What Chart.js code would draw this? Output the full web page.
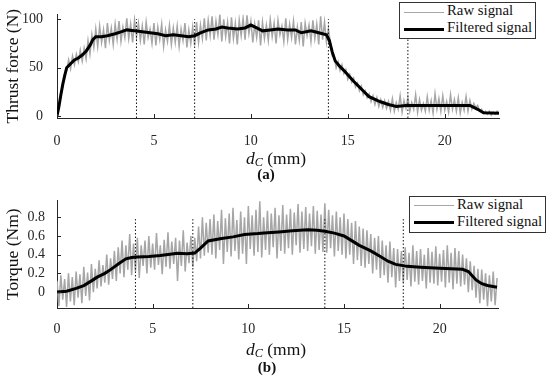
<!DOCTYPE html>
<html>
<head>
<meta charset="utf-8">
<script src="https://cdn.jsdelivr.net/npm/chart.js@4.4.1/dist/chart.umd.min.js"></script>
<style>
  body { margin: 0; background: #fff; }
  #wrap { position: relative; width: 550px; height: 377px; font-family: "Liberation Serif", serif; color: #111; }
  canvas { position: absolute; left: 0; }
  .xlab { position: absolute; font-size: 17.5px; line-height: 17.5px; white-space: nowrap; transform: translateX(-50%); }
  .xlab sub { font-size: 0.7em; position: relative; top: 0.2em; vertical-align: baseline; font-style: italic; }
  .cap { position: absolute; font-size: 15px; line-height: 15px; font-weight: bold; white-space: nowrap; transform: translateX(-50%); }
  .legend { position: absolute; width: 137px; height: 37px; box-sizing: border-box; border: 1px solid #333; background: #fff; font-size: 14.8px; line-height: 14.8px; }
  .legend .sw { position: absolute; left: 4px; width: 40px; }
  .legend .tx { position: absolute; left: 47px; white-space: nowrap; }
</style>
</head>
<body>
<div id="wrap">
  <canvas id="thrust" width="550" height="190" style="top:0"></canvas>
  <canvas id="torque" width="550" height="189" style="top:188px"></canvas>

  <div class="xlab" style="left:276px; top:150px"><i>d</i><sub>C</sub> (mm)</div>
  <div class="cap" style="left:266px; top:167px">(a)</div>
  <div class="xlab" style="left:276px; top:341px"><i>d</i><sub>C</sub> (mm)</div>
  <div class="cap" style="left:267px; top:360px">(b)</div>

  <div class="legend" style="left:399px; top:2px">
    <div class="sw" style="top:9px; height:1px; background:#a6a6a6"></div>
    <div class="tx" style="top:0px">Raw signal</div>
    <div class="sw" style="top:24.5px; height:3px; background:#000"></div>
    <div class="tx" style="top:17px">Filtered signal</div>
  </div>
  <div class="legend" style="left:409px; top:196px">
    <div class="sw" style="top:8px; height:1px; background:#a6a6a6"></div>
    <div class="tx" style="top:0px">Raw signal</div>
    <div class="sw" style="top:24px; height:3px; background:#000"></div>
    <div class="tx" style="top:17px">Filtered signal</div>
  </div>
</div>

<script>
// sample spacing of the raw signals (mm)
const rawStep = 0.1;

// (a) thrust force, raw samples from d = 0 to 22.8 mm
const thrustRaw = [
  0, 9, 24, 31, 44, 47,
  58, 49, 62, 53, 64,
  56, 68, 57, 70, 59,
  78, 64, 84, 71, 90,
  72, 93, 76, 89, 70, 96, 78, 91, 74, 95,
  79, 98, 77, 92, 81, 101, 80, 95, 76, 99,
  82, 96, 78, 93, 74, 97, 81, 90, 75, 96,
  73, 92, 79, 95, 72, 89, 77, 94, 74, 91,
  76, 93, 72, 90, 78, 96, 71, 89, 75, 92,
  73, 97, 76, 94, 80, 101, 78, 99, 83, 103,
  79, 98, 84, 105, 77, 100, 82, 97, 75, 102,
  80, 96, 74, 99, 83, 101, 79, 104, 85, 98,
  76, 95, 81, 99, 73, 97, 80, 94, 78, 100,
  82, 96, 75, 99, 84, 93, 77, 101, 79, 95,
  81, 98, 74, 92, 78, 97, 72, 96, 83, 94,
  77, 99, 80, 95, 74, 103, 79, 97, 76, 90,
  76, 62, 61, 50, 56, 47, 53, 44, 48, 38,
  43, 35, 39, 30, 34, 26, 31, 22, 26, 19,
  23, 15, 21, 12, 19, 10, 17, 9, 16, 8,
  15, 6, 18, 5, 14, 7, 21, 4, 16, 8,
  19, 5, 14, 7, 22, 4, 17, 6, 13, 5,
  20, 6, 16, 3, 23, 7, 18, 5, 21, 6,
  15, 4, 22, 7, 17, 5, 19, 3, 14, 6,
  20, 5, 16, 7, 13, 9, 11, 5, 7, 3,
  5, 2, 5, 1, 4, 2, 5, 3
];

// (a) filtered thrust force
const thrustFiltX = [0, 0.1, 0.2, 0.3, 0.4, 0.5, 0.7, 0.9, 1.1, 1.3, 1.5, 1.7, 1.85, 2.0, 2.3, 2.6, 3.0, 3.3, 3.6, 4.0,
  4.4, 4.8, 5.2, 5.6, 6.0, 6.4, 6.8, 7.1, 7.4, 7.8, 8.2, 8.5, 8.8, 9.3, 9.7, 10.0, 10.3, 10.6, 11.0, 11.4, 11.9,
  12.3, 12.6, 13.1, 13.5, 13.9, 14.05, 14.2, 14.35, 14.6, 14.85, 15.3, 15.7, 16.1, 16.65, 17.1, 17.5, 18.0, 19.0, 20.0, 21.3,
  21.7, 22.0, 22.8];
const thrustFilt = [0, 10, 22, 33, 42, 50, 54, 58, 60, 63, 67, 73, 79, 82, 82, 83, 85, 87, 89, 88,
  87, 86, 85, 83, 84, 83, 82, 83, 86, 89, 90, 92, 91, 90, 91, 94, 91, 88, 89, 90, 89,
  89, 86, 88, 86, 84, 78, 66, 57, 51, 46, 36, 28, 20, 15, 12, 10, 11, 11, 11, 11,
  7, 3.5, 3];

// (b) torque, raw samples from d = 0 to 23.0 mm
const torqueRaw = [
  0.12, -0.15, 0.18, -0.08, 0.14, -0.16, 0.2, -0.1, 0.16, -0.14, 0.22,
  -0.06, 0.19, -0.12, 0.27, -0.04, 0.21, -0.09, 0.3, 0.0, 0.25,
  0.04, 0.34, 0.06, 0.29, 0.1, 0.4, 0.08, 0.36, 0.14, 0.44,
  0.12, 0.48, 0.2, 0.55, 0.16, 0.5, 0.24, 0.62, 0.18, 0.52,
  0.22, 0.58, 0.15, 0.5, 0.28, 0.55, 0.2, 0.6, 0.26, 0.52,
  0.24, 0.63, 0.29, 0.5, 0.19, 0.56, 0.27, 0.64, 0.25, 0.54,
  0.3, 0.58, 0.12, 0.55, 0.28, 0.66, 0.22, 0.53, 0.31, 0.6,
  0.27, 0.58, 0.33, 0.7, 0.36, 0.8, 0.39, 0.74, 0.42, 0.78,
  0.4, 0.83, 0.36, 0.76, 0.45, 0.88, 0.3, 0.79, 0.43, 0.84,
  0.38, 0.9, 0.44, 0.77, 0.35, 0.86, 0.41, 0.8, 0.3, 0.92,
  0.46, 0.82, 0.39, 0.88, 0.43, 0.97, 0.37, 0.8, 0.45, 0.87,
  0.4, 0.84, 0.48, 0.9, 0.36, 0.82, 0.44, 0.93, 0.41, 0.83,
  0.47, 0.89, 0.4, 0.85, 0.5, 0.94, 0.42, 0.86, 0.46, 0.91,
  0.44, 0.84, 0.49, 0.92, 0.41, 0.87, 0.45, 0.83, 0.43, 0.95,
  0.42, 0.88, 0.47, 0.82, 0.38, 0.86, 0.44, 0.8, 0.4, 0.84,
  0.36, 0.78, 0.4, 0.74, 0.3, 0.76, 0.34, 0.7, 0.28, 0.68,
  0.26, 0.66, 0.3, 0.62, 0.2, 0.58, 0.24, 0.6, 0.15, 0.55,
  0.18, 0.5, 0.1, 0.54, 0.16, 0.47, 0.05, 0.46, 0.12, 0.44,
  0.1, 0.48, 0.13, 0.42, 0.06, 0.5, 0.11, 0.44, 0.08, 0.46,
  0.12, 0.4, 0.04, 0.47, 0.1, 0.43, 0.09, 0.49, 0.07, 0.41,
  0.11, 0.45, 0.05, 0.5, 0.1, 0.42, 0.03, 0.47, 0.09, 0.44,
  0.06, 0.4, 0.08, 0.36, 0.0, 0.33, 0.02, 0.28, -0.06, 0.25,
  -0.12, 0.24, -0.08, 0.2, -0.15, 0.18, -0.1, 0.22, -0.14, 0.15
];

// (b) filtered torque
const torqueFiltX = [0, 0.5, 1.0, 1.4, 1.8, 2.1, 2.5, 2.8, 3.2, 3.6, 3.9, 4.2, 4.8, 5.4, 5.9, 6.3, 6.8, 7.2, 7.5, 7.9,
  8.6, 9.2, 9.8, 10.5, 11.0, 11.6, 12.3, 13.1, 13.6, 14.0, 14.5, 15.0, 15.4, 15.8, 16.4, 16.9, 17.3, 17.7, 18.3, 19.0,
  20.0, 21.2, 21.5, 21.9, 22.2, 22.5, 23.0];
const torqueFilt = [0, 0.01, 0.04, 0.07, 0.12, 0.16, 0.2, 0.24, 0.3, 0.355, 0.37, 0.375, 0.38, 0.39, 0.405, 0.415, 0.41, 0.417, 0.47, 0.546,
  0.573, 0.59, 0.615, 0.625, 0.635, 0.643, 0.655, 0.667, 0.66, 0.65, 0.63, 0.6, 0.55, 0.5, 0.44, 0.38, 0.33, 0.296, 0.275, 0.265,
  0.254, 0.244, 0.22, 0.13, 0.09, 0.07, 0.052];

// dotted phase markers (mm)
const phaseMarks = [4.1, 7.1, 14.0, 18.1];

// axis ticks
const xTicks = [0, 5, 10, 15, 20];
const thrustTicks = [0, 50, 100];
const torqueTicks = [0, 0.2, 0.4, 0.6, 0.8];

const axisColor = "#262626";
const rawColor = "#a6a6a6";

// MATLAB style ticks pointing into the plot
const inwardTicks = {
  id: "inwardTicks",
  afterDatasetsDraw(chart) {
    const { ctx, chartArea: a, scales: { x, y } } = chart;
    ctx.save();
    ctx.strokeStyle = axisColor;
    ctx.lineWidth = 1;
    ctx.beginPath();
    x.ticks.forEach(t => {
      const px = Math.round(x.getPixelForValue(t.value)) + 0.5;
      ctx.moveTo(px, a.bottom);
      ctx.lineTo(px, a.bottom - 4);
    });
    y.ticks.forEach(t => {
      const py = Math.round(y.getPixelForValue(t.value)) + 0.5;
      ctx.moveTo(a.left, py);
      ctx.lineTo(a.left + 4, py);
    });
    ctx.stroke();
    ctx.restore();
  }
};

function makeChart(id, opts) {
  const raw = opts.raw.map((v, i) => ({ x: i * rawStep, y: v }));
  const filt = opts.filtX.map((x, i) => ({ x: x, y: opts.filt[i] }));
  const marks = phaseMarks.map(m => ({
    data: [{ x: m, y: opts.yMin }, { x: m, y: opts.markTop }],
    borderColor: "#111",
    borderWidth: 1,
    borderDash: [1.5, 2],
    pointRadius: 0,
    order: 1
  }));

  return new Chart(document.getElementById(id), {
    type: "line",
    data: {
      datasets: [
        { label: "Raw signal", data: raw, borderColor: rawColor, borderWidth: 1.5, pointRadius: 0, order: 2 },
        ...marks,
        { label: "Filtered signal", data: filt, borderColor: "#000", borderWidth: 3, pointRadius: 0, order: 0 }
      ]
    },
    options: {
      responsive: false,
      animation: false,
      devicePixelRatio: 1,
      layout: { padding: { top: opts.padTop, right: opts.padRight, left: 0, bottom: 0 } },
      plugins: { legend: { display: false }, tooltip: { enabled: false } },
      elements: { line: { tension: 0 } },
      scales: {
        x: {
          type: "linear",
          min: 0,
          max: opts.xMax,
          afterBuildTicks: s => { s.ticks = xTicks.map(v => ({ value: v })); },
          afterFit: s => { s.height = opts.xAxisH; },
          grid: { display: false },
          border: { display: true, color: axisColor, width: 1 },
          ticks: {
            color: axisColor,
            padding: opts.xTickPad,
            maxRotation: 0,
            autoSkip: false,
            font: { family: "Liberation Serif", size: 14 },
            callback: v => String(v)
          }
        },
        y: {
          type: "linear",
          min: opts.yMin,
          max: opts.yMax,
          afterBuildTicks: s => { s.ticks = opts.yTicks.map(v => ({ value: v })); },
          afterFit: s => { s.width = 57; },
          grid: { display: false },
          border: { display: true, color: axisColor, width: 1 },
          ticks: {
            color: axisColor,
            padding: opts.yTickPad,
            autoSkip: false,
            font: { family: "Liberation Serif", size: 14 },
            callback: v => String(v)
          },
          title: {
            display: true,
            text: opts.yTitle,
            color: "#111",
            padding: { top: 2.5, bottom: 0 },
            font: { family: "Liberation Serif", size: 17.5, weight: "normal" }
          }
        }
      }
    },
    plugins: [inwardTicks]
  });
}

makeChart("thrust", {
  raw: thrustRaw, filtX: thrustFiltX, filt: thrustFilt,
  xMax: 22.8, yMin: -2, yMax: 105, markTop: 100, yTicks: thrustTicks,
  yTitle: "Thrust force (N)",
  padTop: 9.5, padRight: 51, xAxisH: 72, xTickPad: 7, yTickPad: 6
});

makeChart("torque", {
  raw: torqueRaw, filtX: torqueFiltX, filt: torqueFilt,
  xMax: 23.05, yMin: -0.17, yMax: 0.98, markTop: 0.78, yTicks: torqueTicks,
  yTitle: "Torque (Nm)",
  padTop: 9.7, padRight: 52, xAxisH: 69, xTickPad: 5, yTickPad: 4
});
</script>
</body>
</html>
